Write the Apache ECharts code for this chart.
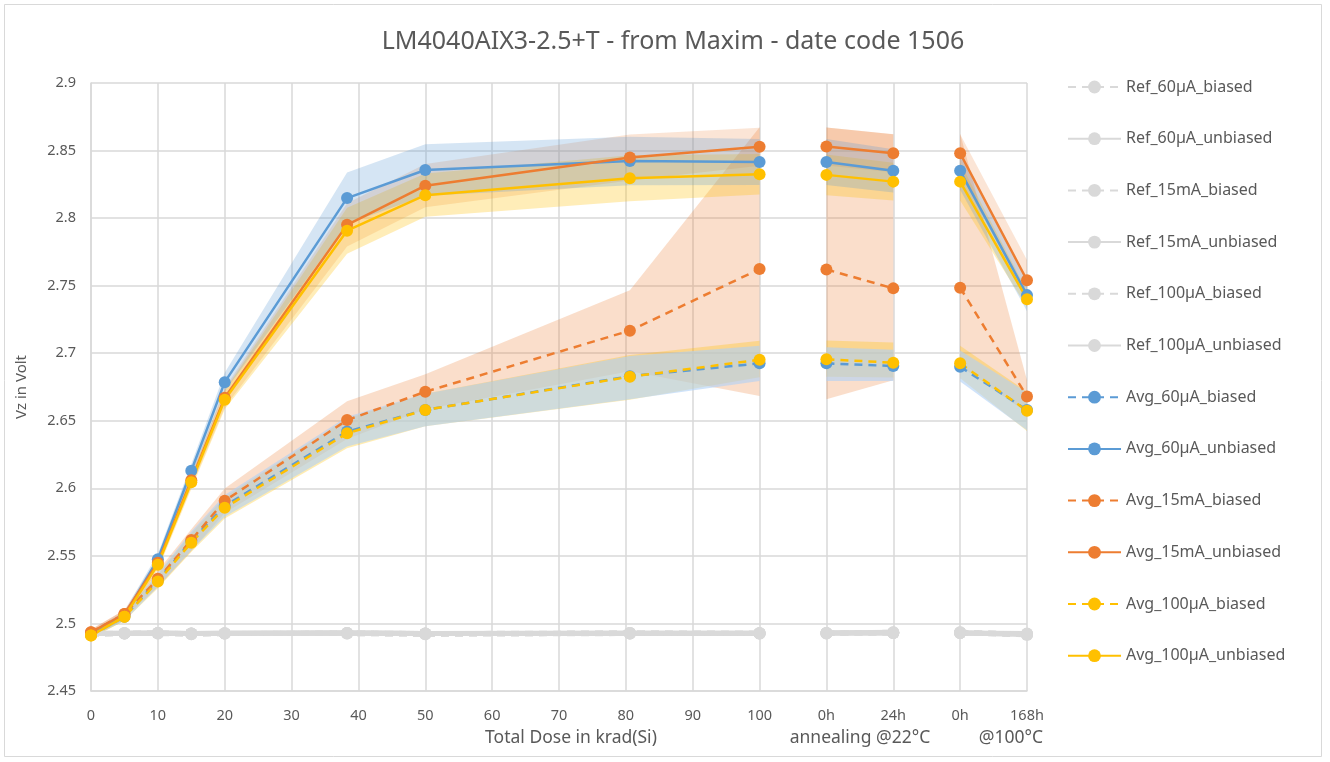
<!DOCTYPE html>
<html>
<head>
<meta charset="utf-8">
<script src="https://cdn.jsdelivr.net/npm/echarts@6/dist/echarts.min.js"></script>
<style>
html,body{margin:0;padding:0;background:#fff;}
#chart{width:1330px;height:762px;}
</style>
</head>
<body>
<div id="chart"></div>
<script>
// ---- data ----
const xPos = [0, 5, 10, 15, 20, 38.3, 50, 80.6, 100, 110, 120, 130, 140];
const segments = [[0, 8], [9, 10], [11, 12]]; // continuous runs: irradiation, anneal 22°C, anneal 100°C
const xTickLabels = ['0', '10', '20', '30', '40', '50', '60', '70', '80', '90', '100', '0h', '24h', '0h', '168h'];

const ref60Biased     = [2.4925, 2.4930, 2.4930, 2.4925, 2.4925, 2.4930, 2.4925, 2.4930, 2.4925, 2.4930, 2.4935, 2.4935, 2.4920];
const ref60Unbiased   = [2.4925, 2.4925, 2.4930, 2.4925, 2.4930, 2.4930, 2.4925, 2.4925, 2.4925, 2.4930, 2.4930, 2.4930, 2.4925];
const ref15Biased     = [2.4920, 2.4925, 2.4930, 2.4920, 2.4925, 2.4925, 2.4920, 2.4930, 2.4930, 2.4925, 2.4930, 2.4935, 2.4920];
const ref15Unbiased   = [2.4925, 2.4925, 2.4925, 2.4925, 2.4925, 2.4930, 2.4925, 2.4930, 2.4925, 2.4930, 2.4935, 2.4930, 2.4920];
const ref100Biased    = [2.4920, 2.4925, 2.4925, 2.4920, 2.4925, 2.4925, 2.4920, 2.4925, 2.4925, 2.4925, 2.4930, 2.4930, 2.4915];
const ref100Unbiased  = [2.4925, 2.4930, 2.4930, 2.4925, 2.4925, 2.4930, 2.4925, 2.4925, 2.4930, 2.4930, 2.4930, 2.4930, 2.4920];

const avg60Biased     = [2.4920, 2.5050, 2.5320, 2.5610, 2.5870, 2.6420, 2.6580, 2.6830, 2.6925, 2.6925, 2.6905, 2.6900, 2.6580];
const avg60Unbiased   = [2.4920, 2.5060, 2.5475, 2.6130, 2.6786, 2.8148, 2.8356, 2.8423, 2.8415, 2.8415, 2.8350, 2.8350, 2.7430];
const avg15Biased     = [2.4935, 2.5070, 2.5330, 2.5617, 2.5908, 2.6505, 2.6715, 2.7167, 2.7623, 2.7620, 2.7480, 2.7485, 2.6680];
const avg15Unbiased   = [2.4935, 2.5070, 2.5450, 2.6060, 2.6670, 2.7950, 2.8240, 2.8448, 2.8528, 2.8530, 2.8480, 2.8480, 2.7540];
const avg100Biased    = [2.4910, 2.5050, 2.5310, 2.5598, 2.5856, 2.6407, 2.6580, 2.6826, 2.6952, 2.6955, 2.6930, 2.6925, 2.6575];
const avg100Unbiased  = [2.4910, 2.5050, 2.5435, 2.6045, 2.6655, 2.7907, 2.8170, 2.8295, 2.8324, 2.8320, 2.8270, 2.8270, 2.7400];

// spread of the device population (shaded bands), + and - from the average
const err60BiasedUp     = [0.002, 0.003, 0.005, 0.007, 0.008, 0.011, 0.012, 0.015, 0.013, 0.012, 0.012, 0.012, 0.013];
const err60BiasedDn     = [0.002, 0.003, 0.005, 0.007, 0.008, 0.011, 0.012, 0.017, 0.013, 0.013, 0.011, 0.011, 0.015];
const err60UnbiasedUp   = [0.002, 0.003, 0.004, 0.005, 0.007, 0.019, 0.019, 0.018, 0.017, 0.017, 0.016, 0.014, 0.012];
const err60UnbiasedDn   = [0.002, 0.003, 0.004, 0.005, 0.007, 0.019, 0.019, 0.018, 0.017, 0.017, 0.016, 0.014, 0.012];
const err15BiasedUp     = [0.002, 0.003, 0.006, 0.008, 0.009, 0.014, 0.013, 0.030, 0.105, 0.105, 0.114, 0.114, 0.012];
const err15BiasedDn     = [0.002, 0.003, 0.006, 0.008, 0.009, 0.014, 0.013, 0.030, 0.094, 0.096, 0.068, 0.058, 0.012];
const err15UnbiasedUp   = [0.002, 0.003, 0.004, 0.005, 0.007, 0.016, 0.016, 0.017, 0.014, 0.014, 0.014, 0.014, 0.015];
const err15UnbiasedDn   = [0.002, 0.003, 0.004, 0.005, 0.007, 0.016, 0.016, 0.017, 0.014, 0.014, 0.014, 0.014, 0.015];
const err100BiasedUp    = [0.002, 0.003, 0.005, 0.007, 0.008, 0.011, 0.012, 0.016, 0.014, 0.014, 0.015, 0.013, 0.014];
const err100BiasedDn    = [0.002, 0.003, 0.005, 0.007, 0.008, 0.011, 0.012, 0.017, 0.013, 0.013, 0.011, 0.011, 0.015];
const err100UnbiasedUp  = [0.002, 0.003, 0.004, 0.005, 0.007, 0.017, 0.016, 0.017, 0.015, 0.015, 0.014, 0.014, 0.006];
const err100UnbiasedDn  = [0.002, 0.003, 0.004, 0.005, 0.007, 0.017, 0.016, 0.017, 0.015, 0.015, 0.014, 0.014, 0.006];

// ---- styling ----
const BLUE = '#5B9BD5', ORANGE = '#ED7D31', YELLOW = '#FFC000', GRAY = '#D9D9D9';
const TXT = '#595959';
const FONT = '"Noto Sans", "Liberation Sans", sans-serif';

function lineData(vals) {
  const out = [];
  segments.forEach((s, k) => {
    if (k > 0) out.push([(xPos[s[0] - 1] + xPos[s[0]]) / 2, '-']);
    for (let i = s[0]; i <= s[1]; i++) out.push([xPos[i], vals[i]]);
  });
  return out;
}

function refSeries(name, vals, dashed) {
  return {
    name: name, type: 'line', data: lineData(vals),
    symbol: 'circle', symbolSize: 12, connectNulls: false,
    lineStyle: { color: GRAY, width: 5, type: dashed ? [8, 6] : 'solid' },
    itemStyle: { color: GRAY },
    z: 3, silent: true
  };
}
function avgSeries(name, vals, color, dashed) {
  return {
    name: name, type: 'line', data: lineData(vals),
    symbol: 'circle', symbolSize: 12, connectNulls: false,
    lineStyle: { color: color, width: 2.5, type: dashed ? [8, 6] : 'solid' },
    itemStyle: { color: color },
    z: 4, silent: true
  };
}
function bandSeries(vals, up, dn, color, opacity) {
  return {
    type: 'custom', silent: true, z: 1,
    data: segments.map(s => [xPos[s[0]], vals[s[0]]]),
    renderItem: function (params, api) {
      const s = segments[params.dataIndex];
      const pts = [];
      for (let i = s[0]; i <= s[1]; i++) pts.push(api.coord([xPos[i], vals[i] + up[i]]));
      for (let i = s[1]; i >= s[0]; i--) pts.push(api.coord([xPos[i], vals[i] - dn[i]]));
      return { type: 'polygon', shape: { points: pts }, style: { fill: color, opacity: opacity } };
    }
  };
}

const legendNames = ['Ref_60µA_biased', 'Ref_60µA_unbiased', 'Ref_15mA_biased', 'Ref_15mA_unbiased',
  'Ref_100µA_biased', 'Ref_100µA_unbiased', 'Avg_60µA_biased', 'Avg_60µA_unbiased',
  'Avg_15mA_biased', 'Avg_15mA_unbiased', 'Avg_100µA_biased', 'Avg_100µA_unbiased'];

const chart = echarts.init(document.getElementById('chart'), null, { renderer: 'canvas' });
chart.setOption({
  animation: false,
  backgroundColor: '#fff',
  title: {
    text: 'LM4040AIX3-2.5+T - from Maxim - date code 1506',
    left: 668, top: 24, textAlign: 'center',
    textStyle: { fontFamily: FONT, fontSize: 25, fontWeight: 'normal', color: TXT }
  },
  grid: { left: 91, right: 303, top: 83, bottom: 71 },
  legend: {
    orient: 'vertical', left: 1062, top: 74,
    itemWidth: 53, itemHeight: 16, itemGap: 35.7,
    data: legendNames,
    textStyle: { fontFamily: FONT, fontSize: 16, color: TXT },
    selectedMode: false
  },
  xAxis: {
    type: 'value', min: 0, max: 140, interval: 10,
    axisLine: { show: true, lineStyle: { color: GRAY, width: 1.5 } },
    axisTick: { show: false },
    splitLine: { show: true, lineStyle: { color: GRAY, width: 1.5 } },
    axisLabel: {
      margin: 17, fontFamily: FONT, fontSize: 14.5, color: TXT,
      formatter: v => xTickLabels[Math.round(v / 10)]
    }
  },
  yAxis: {
    type: 'value', min: 2.45, max: 2.9, interval: 0.05,
    name: 'Vz in Volt', nameLocation: 'middle', nameGap: 62, nameRotate: 90,
    nameTextStyle: { fontFamily: FONT, fontSize: 15, color: TXT },
    axisLine: { show: true, lineStyle: { color: GRAY, width: 1.5 } },
    axisTick: { show: false },
    splitLine: { show: true, lineStyle: { color: GRAY, width: 1.5 } },
    axisLabel: {
      margin: 15, fontFamily: FONT, fontSize: 14.5, color: TXT,
      formatter: v => String(Math.round(v * 100) / 100)
    }
  },
  graphic: [
    { type: 'rect', shape: { x: 4.5, y: 4.5, width: 1317, height: 752 }, style: { fill: 'none', stroke: GRAY, lineWidth: 1 }, silent: true, z: -1 },
    { type: 'text', x: 571, y: 738, style: { text: 'Total Dose in krad(Si)', fontFamily: FONT, fontSize: 17.5, fill: TXT, textAlign: 'center', textVerticalAlign: 'middle' } },
    { type: 'text', x: 860, y: 738, style: { text: 'annealing @22°C', fontFamily: FONT, fontSize: 17.5, fill: TXT, textAlign: 'center', textVerticalAlign: 'middle' } },
    { type: 'text', x: 1011, y: 738, style: { text: '@100°C', fontFamily: FONT, fontSize: 17.5, fill: TXT, textAlign: 'center', textVerticalAlign: 'middle' } }
  ],
  series: [
    bandSeries(avg15Biased, err15BiasedUp, err15BiasedDn, ORANGE, 0.25),
    bandSeries(avg15Unbiased, err15UnbiasedUp, err15UnbiasedDn, ORANGE, 0.2),
    bandSeries(avg100Biased, err100BiasedUp, err100BiasedDn, YELLOW, 0.3),
    bandSeries(avg100Unbiased, err100UnbiasedUp, err100UnbiasedDn, YELLOW, 0.28),
    bandSeries(avg60Biased, err60BiasedUp, err60BiasedDn, '#AFD1F6', 0.6),
    bandSeries(avg60Unbiased, err60UnbiasedUp, err60UnbiasedDn, BLUE, 0.26),
    refSeries('Ref_60µA_biased', ref60Biased, true),
    refSeries('Ref_60µA_unbiased', ref60Unbiased, false),
    refSeries('Ref_15mA_biased', ref15Biased, true),
    refSeries('Ref_15mA_unbiased', ref15Unbiased, false),
    refSeries('Ref_100µA_biased', ref100Biased, true),
    refSeries('Ref_100µA_unbiased', ref100Unbiased, false),
    avgSeries('Avg_60µA_biased', avg60Biased, BLUE, true),
    avgSeries('Avg_60µA_unbiased', avg60Unbiased, BLUE, false),
    avgSeries('Avg_15mA_biased', avg15Biased, ORANGE, true),
    avgSeries('Avg_15mA_unbiased', avg15Unbiased, ORANGE, false),
    avgSeries('Avg_100µA_biased', avg100Biased, YELLOW, true),
    avgSeries('Avg_100µA_unbiased', avg100Unbiased, YELLOW, false)
  ]
});
</script>
</body>
</html>
